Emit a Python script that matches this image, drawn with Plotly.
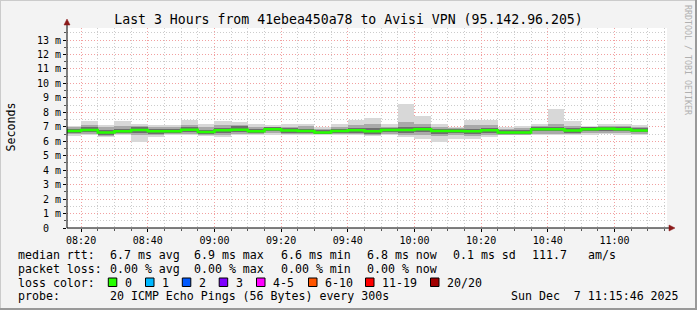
import plotly.graph_objects as go
from datetime import datetime, timedelta

# ---------------- data ----------------
day = "2025-12-07"
bar_start = ["08:15", "08:20", "08:25", "08:30", "08:35", "08:40", "08:45", "08:50", "08:55",
             "09:00", "09:05", "09:10", "09:15", "09:20", "09:25", "09:30", "09:35", "09:40",
             "09:45", "09:50", "09:55", "10:00", "10:05", "10:10", "10:15", "10:20", "10:25",
             "10:30", "10:35", "10:40", "10:45", "10:50", "10:55", "11:00", "11:05"]
step_seconds = 300

rtt_max = [7.06, 7.38, 7.15, 7.38, 7.22, 7.15, 7.15, 7.50, 7.17, 7.38, 7.33, 7.17, 7.10, 7.17,
           7.20, 7.00, 7.17, 7.45, 7.60, 7.20, 8.55, 7.72, 7.22, 7.00, 7.45, 7.45, 7.00, 7.05,
           7.20, 8.20, 7.38, 7.05, 7.20, 7.17, 7.10]
rtt_p90 = [6.98, 7.10, 6.95, 7.05, 7.05, 6.98, 6.98, 7.10, 6.95, 7.12, 7.15, 6.98, 7.00, 7.00,
           7.02, 6.88, 6.98, 7.15, 7.20, 7.00, 7.30, 7.20, 7.00, 6.92, 7.10, 7.10, 6.88, 6.90,
           7.02, 7.20, 7.05, 7.00, 7.05, 7.02, 6.98]
rtt_p75 = [6.86, 6.95, 6.78, 6.88, 6.95, 6.85, 6.85, 6.98, 6.80, 6.93, 7.02, 6.86, 6.95, 6.89,
           6.87, 6.77, 6.86, 6.94, 6.92, 6.93, 6.97, 7.00, 6.87, 6.85, 6.87, 6.93, 6.77, 6.78,
           6.97, 7.00, 6.90, 6.97, 7.00, 6.97, 6.90]
rtt_med = [6.71, 6.78, 6.60, 6.69, 6.78, 6.69, 6.69, 6.80, 6.64, 6.76, 6.80, 6.69, 6.82, 6.74,
           6.71, 6.60, 6.71, 6.76, 6.69, 6.78, 6.78, 6.83, 6.71, 6.71, 6.69, 6.76, 6.60, 6.60,
           6.83, 6.83, 6.74, 6.83, 6.87, 6.83, 6.74]
rtt_p25 = [6.56, 6.62, 6.45, 6.55, 6.60, 6.52, 6.55, 6.65, 6.50, 6.60, 6.65, 6.55, 6.68, 6.60,
           6.57, 6.50, 6.57, 6.60, 6.52, 6.63, 6.60, 6.63, 6.52, 6.55, 6.52, 6.60, 6.50, 6.50,
           6.68, 6.68, 6.60, 6.68, 6.72, 6.70, 6.62]
rtt_p10 = [6.48, 6.50, 6.38, 6.48, 6.43, 6.40, 6.48, 6.53, 6.43, 6.45, 6.53, 6.48, 6.56, 6.48,
           6.48, 6.47, 6.48, 6.48, 6.43, 6.50, 6.43, 6.42, 6.33, 6.40, 6.38, 6.46, 6.45, 6.45,
           6.53, 6.53, 6.48, 6.56, 6.60, 6.58, 6.53]
rtt_min = [6.37, 6.40, 6.30, 6.40, 5.95, 6.30, 6.40, 6.45, 6.35, 6.30, 6.40, 6.45, 6.45, 6.40,
           6.40, 6.45, 6.40, 6.40, 6.35, 6.40, 6.30, 6.14, 5.95, 6.18, 6.18, 6.30, 6.40, 6.40,
           6.40, 6.40, 6.40, 6.45, 6.50, 6.45, 6.40]

y_tick_vals = list(range(14))
y_tick_text = ["0\u00a0\u00a0", "1 m", "2 m", "3 m", "4 m", "5 m", "6 m", "7 m", "8 m",
               "9 m", "10 m", "11 m", "12 m", "13 m"]

view_start = "2025-12-07 08:15:46"
view_end = "2025-12-07 11:15:46"

title_text = "Last 3 Hours from 41ebea450a78 to Avisi VPN (95.142.96.205)"
rtt_labels = ["median rtt:", "6.7 ms avg", "6.9 ms max", "6.6 ms min", "6.8 ms now",
              "0.1 ms sd", "111.7", "am/s"]
loss_labels = ["packet loss:", "0.00 % avg", "0.00 % max", "0.00 % min", "0.00 % now"]
loss_color_names = ["0", "1", "2", "3", "4-5", "6-10", "11-19", "20/20"]
loss_color_values = ["#26ff00", "#00b8ff", "#0059ff", "#7e00ff", "#ff00ff", "#ff5500",
                     "#ff0000", "#a10000"]
probe_labels = ["probe:", "20 ICMP Echo Pings (56 Bytes) every 300s",
                "Sun Dec \u00a07 11:15:46 2025"]

# ---------------- geometry helpers (layout only) ----------------
L, T, W, H = 67, 28, 600, 200
FIG_W, FIG_H = 697, 310


def PX(px):
    return (px - L) / W


def PY(py):
    return (T + H - py) / H


MONO = "DejaVu Sans Mono"

starts = [datetime.fromisoformat(f"{day} {s}:00") for s in bar_start]
step = timedelta(seconds=step_seconds)
centers = [s + step / 2 for s in starts]

fig = go.Figure()


def band(lo, hi, color):
    fig.add_trace(go.Bar(
        x=centers, y=[h - l for l, h in zip(lo, hi)], base=lo,
        width=[step_seconds * 1000] * len(centers),
        marker=dict(color=color, line=dict(width=0)),
        hoverinfo="skip", showlegend=False))


band(rtt_min, rtt_max, "#d8d8d8")
band(rtt_p10, rtt_p90, "#a9a9a9")
band(rtt_p25, rtt_p75, "#6e6e6e")

# median line as steps
mx = starts + [starts[-1] + step]
my = rtt_med + [rtt_med[-1]]
fig.add_trace(go.Scatter(x=mx, y=my, mode="lines", line=dict(color="#26ff00", width=2.5, shape="hv"),
                         hoverinfo="skip", showlegend=False))

shapes = []
ann = []

# outer 3D frame
shapes += [
    dict(type="line", xref="paper", yref="paper", x0=PX(0), x1=PX(FIG_W), y0=PY(0.5), y1=PY(0.5),
         line=dict(color="#cbcbcb", width=1)),
    dict(type="line", xref="paper", yref="paper", x0=PX(0.5), x1=PX(0.5), y0=PY(0), y1=PY(FIG_H),
         line=dict(color="#cbcbcb", width=1)),
    dict(type="line", xref="paper", yref="paper", x0=PX(0), x1=PX(FIG_W), y0=PY(FIG_H - 1), y1=PY(FIG_H - 1),
         line=dict(color="#999999", width=2)),
    dict(type="line", xref="paper", yref="paper", x0=PX(FIG_W - 1), x1=PX(FIG_W - 1), y0=PY(0), y1=PY(FIG_H),
         line=dict(color="#999999", width=2)),
]

# axes lines with arrows
shapes += [
    dict(type="line", xref="paper", yref="paper", x0=PX(L), x1=PX(670), y0=0, y1=0,
         line=dict(color="#000000", width=1)),
    dict(type="line", xref="paper", yref="paper", x0=0, x1=0, y0=0, y1=PY(23),
         line=dict(color="#000000", width=1)),
    dict(type="path", xref="paper", yref="paper",
         path=f"M {PX(669)},{PY(225)} L {PX(675)},{PY(228)} L {PX(669)},{PY(231)} Z",
         fillcolor="#8b1a1a", line=dict(color="#8b1a1a", width=0.5)),
    dict(type="path", xref="paper", yref="paper",
         path=f"M {PX(64)},{PY(25)} L {PX(67)},{PY(19)} L {PX(70)},{PY(25)} Z",
         fillcolor="#8b1a1a", line=dict(color="#8b1a1a", width=0.5)),
]

LEG_SIZE = 11.6


def text(px, py, s, size=LEG_SIZE, color="#000000", anchor="left", angle=0):
    ann.append(dict(xref="paper", yref="paper", x=PX(px), y=PY(py), text=s, showarrow=False,
                    xanchor=anchor, yanchor="middle", textangle=angle,
                    font=dict(family=MONO, size=size, color=color)))


rtt_x = [15.6, 107.6, 192.4, 279, 365.3, 451, 530, 586]
for xx, s in zip(rtt_x, rtt_labels):
    text(xx, 255, s)
for xx, s in zip(rtt_x, loss_labels):
    text(xx, 268.5, s)
text(15.6, 282.5, "loss color:")
box_x = [108.3, 145.5, 182.3, 219.2, 256.5, 308.5, 365.5, 430.5]
for bx, name, col in zip(box_x, loss_color_names, loss_color_values):
    shapes.append(dict(type="rect", xref="paper", yref="paper", x0=PX(bx), x1=PX(bx + 8.5),
                       y0=PY(286.5), y1=PY(278), fillcolor=col, line=dict(color="#000000", width=1)))
    text(bx + 14.5, 282.5, name)
text(15.6, 296, probe_labels[0])
text(107.6, 296, probe_labels[1])
text(681, 296, probe_labels[2], anchor="right")

# y axis title and watermark
text(10.5, 127, "Seconds", angle=-90, anchor="center")
text(688, 60, "RRDTOOL / TOBI OETIKER", size=8.3, color="#b0b0b0", anchor="center", angle=90)

fig.update_layout(
    width=FIG_W, height=FIG_H,
    margin=dict(l=L, r=FIG_W - L - W, t=T, b=FIG_H - T - H),
    paper_bgcolor="#f3f3f3", plot_bgcolor="#ffffff",
    barmode="overlay", bargap=0,
    showlegend=False,
    title=dict(text=title_text, x=0.5, xref="container", xanchor="center",
               y=1 - 19 / FIG_H, yref="container", yanchor="middle",
               font=dict(family=MONO, size=13.2, color="#000000")),
    shapes=shapes, annotations=ann,
    xaxis=dict(type="date", range=[view_start, view_end], tickformat="%H:%M",
               tick0="2025-12-07 08:20:00", dtick=20 * 60 * 1000,
               showgrid=True, gridcolor="#f2a0a0", griddash="1px,2px", gridwidth=1,
               ticks="outside", ticklen=3, tickcolor="#000000",
               showline=False, zeroline=False,
               tickfont=dict(family=MONO, size=10, color="#000000"),
               minor=dict(dtick=5 * 60 * 1000, tick0="2025-12-07 08:20:00", showgrid=True,
                          gridcolor="#cccccc", griddash="1px,2px", gridwidth=1,
                          ticks="outside", ticklen=2, tickcolor="#555555")),
    yaxis=dict(range=[0, 13.83], tickvals=y_tick_vals, ticktext=y_tick_text,
               showgrid=True, gridcolor="#f2a0a0", griddash="1px,2px", gridwidth=1,
               ticks="outside", ticklen=3, tickcolor="#000000",
               showline=False, zeroline=False,
               tickfont=dict(family=MONO, size=10, color="#000000"),
               minor=dict(dtick=0.5, showgrid=True, gridcolor="#cccccc", griddash="1px,2px",
                          gridwidth=1, ticks="outside", ticklen=2, tickcolor="#555555")),
)

fig.write_html("out.html")
